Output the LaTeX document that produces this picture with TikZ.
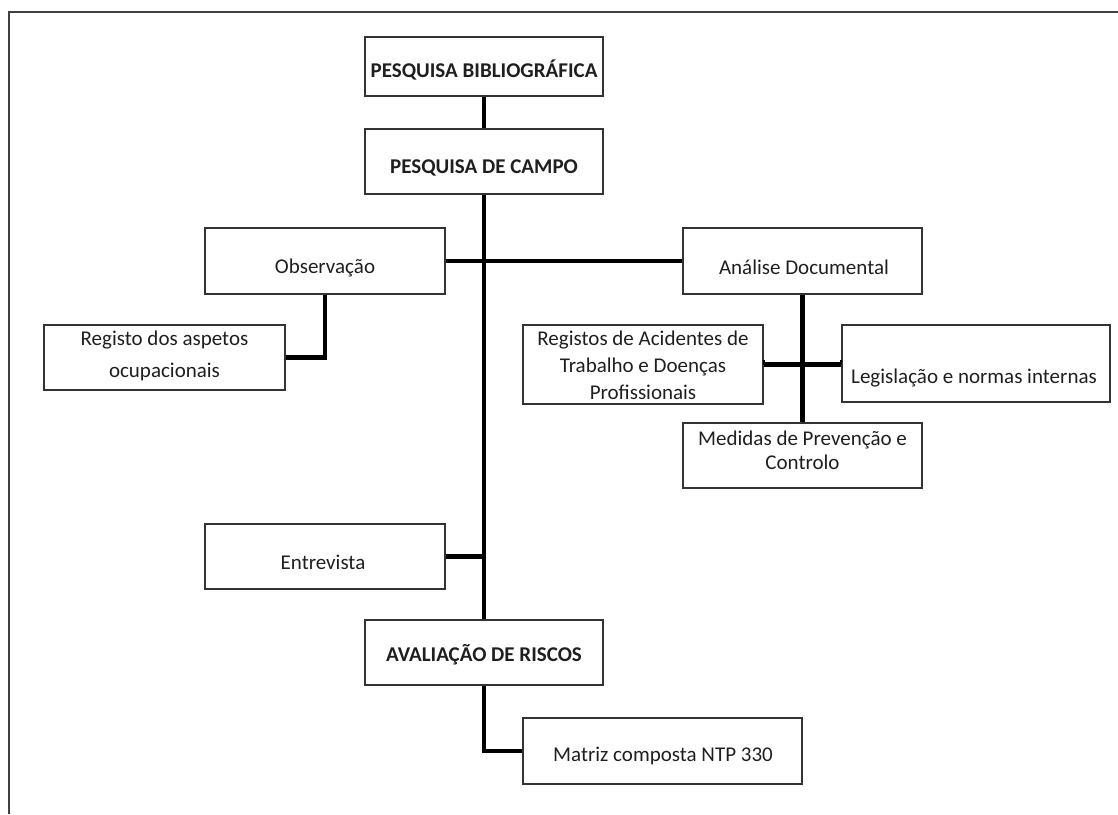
\documentclass[tikz,border=0pt]{standalone}
\usepackage{fontspec}
\setmainfont{Carlito}
\begin{document}
\begin{tikzpicture}[x=1pt,y=-1pt,
  box/.style 2 args={draw=black!80, line width=1.4pt, rectangle, inner sep=0pt,
    minimum width=#1, minimum height=#2},
  txt/.style={inner sep=0pt, align=center, text=black!88,
    font=\fontsize{21}{25}\selectfont},
  btxt/.style={txt, font=\fontsize{21}{25}\selectfont\bfseries},
  conn/.style={line width=4.5pt, black},
  tick/.style={line width=2pt, black},
  frame/.style={line width=2pt, black!75}]
\useasboundingbox (0,0) rectangle (1118,814);

% page frame (top and left edges)
\draw[frame] (1118,12) -- (9,12) -- (9,814);

% boxes
\node[box={238pt}{59pt}] (bib)  at (484,66.5) {};
\node[box={238pt}{65pt}] (campo) at (484,161.5) {};
\node[box={240pt}{66pt}] (obs)  at (325,261) {};
\node[box={239pt}{66pt}] (ana)  at (802.5,261) {};
\node[box={241pt}{65pt}] (reg)  at (164.5,357.5) {};
\node[box={240pt}{79pt}] (acid) at (643,364.5) {};
\node[box={268pt}{77pt}] (leg)  at (976,363.5) {};
\node[box={239pt}{65pt}] (med)  at (802.5,455.5) {};
\node[box={240pt}{65pt}] (ent)  at (325,556.5) {};
\node[box={238pt}{65pt}] (aval) at (484,652.5) {};
\node[box={279pt}{66pt}] (mat)  at (662.5,751) {};

% labels
\node[btxt] (bib-t)   at (484,70)  {PESQUISA BIBLIOGRÁFICA};
\node[btxt] (campo-t) at (484,168) {PESQUISA DE CAMPO};
\node[txt]  (obs-t)   at (325,268) {Observação};
\node[txt]  (ana-t)   at (804,267) {Análise Documental};
\node[txt, font=\fontsize{21}{32}\selectfont] (reg-t) at (164.5,356) {Registo dos aspetos\\ocupacionais};
\node[txt, font=\fontsize{21}{27}\selectfont] (acid-t) at (643,365) {Registos de Acidentes de\\Trabalho e Doenças\\Profissionais};
\node[txt]  (leg-t)   at (974,378) {Legislação e normas internas};
\node[txt, font=\fontsize{21}{24}\selectfont] (med-t) at (802.5,450) {Medidas de Prevenção e\\Controlo};
\node[txt]  (ent-t)   at (323,562) {Entrevista};
\node[btxt] (aval-t)  at (484,655) {AVALIAÇÃO DE RISCOS};
\node[txt]  (mat-t)   at (663,756) {Matriz composta NTP 330};

% connectors
\draw[conn] (bib.south) -- (campo.north);
\draw[conn] (campo.south) -- (aval.north);
\draw[conn] (obs.east) -- (ana.west);
\draw[conn] (obs.south) |- (reg.east);
\draw[conn] (ana.south) -- (med.north);
\draw[conn] (acid.east) -- (leg.west |- acid.east);
\draw[tick] ([yshift=5pt]acid.east) -- (acid.east);
\draw[tick] ([yshift=5pt]leg.west |- acid.east) -- (leg.west |- acid.east);
\draw[conn] (ent.east) -- (ent.east -| campo.south);
\draw[conn] (aval.south) |- (mat.west);
\end{tikzpicture}
\end{document}
